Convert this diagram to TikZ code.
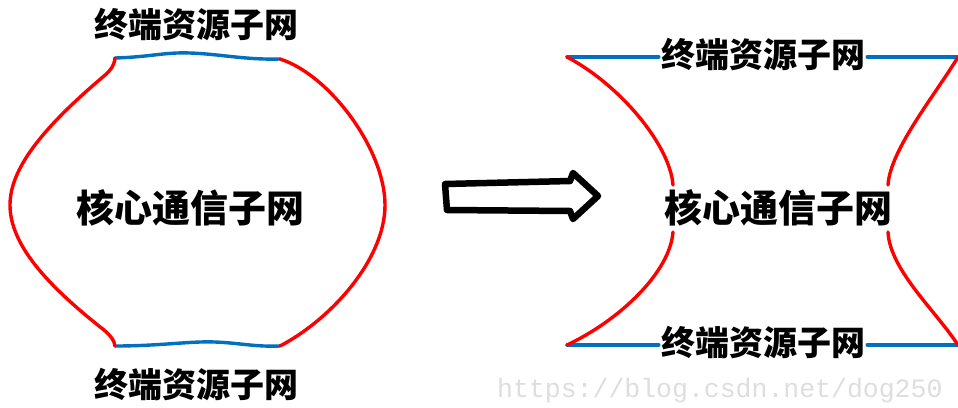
\documentclass[tikz,border=0pt]{standalone}
\usepackage{fontspec}
\newfontfamily\cjk{Noto Sans CJK SC}
\newfontfamily\wmfont{Liberation Mono}
\definecolor{netblue}{RGB}{0,112,192}
\definecolor{wmgray}{RGB}{222,222,222}
\tikzset{
  redline/.style={draw=red, line width=3.4pt, line cap=round},
  blueline/.style={draw=netblue, line width=3.4pt, line cap=round},
  lbl/.style={font=\cjk\bfseries\fontsize{34}{34}\selectfont, inner sep=0pt},
  biglbl/.style={font=\cjk\bfseries\fontsize{38}{38}\selectfont, inner sep=0pt},
  bigarrow/.style={draw=black, line width=6.5pt, line join=round, line cap=round}
}
\begin{document}
\begin{tikzpicture}[x=1pt,y=-1pt]
\useasboundingbox[fill=white] (0,0) rectangle (958,407);
% ---------- left picture ----------
\node[lbl] (ltop) at (196,25) {终端资源子网};
\node[lbl] (lbot) at (196,385) {终端资源子网};
\node[biglbl] (lcore) at (190,208) {核心通信子网};
\coordinate (a1) at (115,58);
\coordinate (a2) at (280,59);
\coordinate (a3) at (280,346);
\coordinate (a4) at (115,346);
\draw[blueline] (a1) .. controls (150,57) and (165,52) .. (190,53) .. controls (220,54) and (245,60) .. (a2);
\draw[blueline] (a4) .. controls (160,346) and (190,341) .. (215,342) .. controls (240,343) and (255,347) .. (a3);
\draw[redline] (a1) .. controls (114,66) and (111,70) .. (104,76) .. controls (40,130) and (10,170) .. (10,205) .. controls (10,245) and (48,286) .. (104,330) .. controls (111,336) and (114,340) .. (a4);
\draw[redline] (a2) .. controls (330,75) and (385,150) .. (385,205) .. controls (385,260) and (330,320) .. (a3);
% ---------- arrow ----------
\draw[bigarrow] (445,184) -- (570,181) -- (573,173) -- (598,196) -- (573,219) -- (570,211) -- (447,210) -- cycle;
% ---------- right picture ----------
\node[lbl] (rtop) at (763,55) {终端资源子网};
\node[lbl] (rbot) at (763,343) {终端资源子网};
\node[biglbl] (rcore) at (778,208) {核心通信子网};
\coordinate (b1) at (567,57);
\coordinate (b2) at (958,57);
\coordinate (b3) at (958,345);
\coordinate (b4) at (567,345);
\draw[blueline] (b1) -- ([xshift=-2pt]rtop.west |- b1);
\draw[blueline] ([xshift=2pt]rtop.east |- b2) -- (b2);
\draw[blueline] (b4) -- ([xshift=-2pt]rbot.west |- b4);
\draw[blueline] ([xshift=2pt]rbot.east |- b3) -- (b3);
\draw[redline] (b1) .. controls (620,85) and (670,145) .. (673,185);
\draw[redline] (673,232) .. controls (670,272) and (620,320) .. (b4);
\draw[redline] (b2) .. controls (935,95) and (890,150) .. (888,185);
\draw[redline] (888,232) .. controls (890,270) and (935,310) .. (b3);
% ---------- watermark ----------
\node[anchor=base west, inner sep=0pt, text=wmgray, font=\wmfont\fontsize{26.5}{26.5}\selectfont] (wm) at (497,397) {https://blog.csdn.net/dog250};
\end{tikzpicture}
\end{document}
